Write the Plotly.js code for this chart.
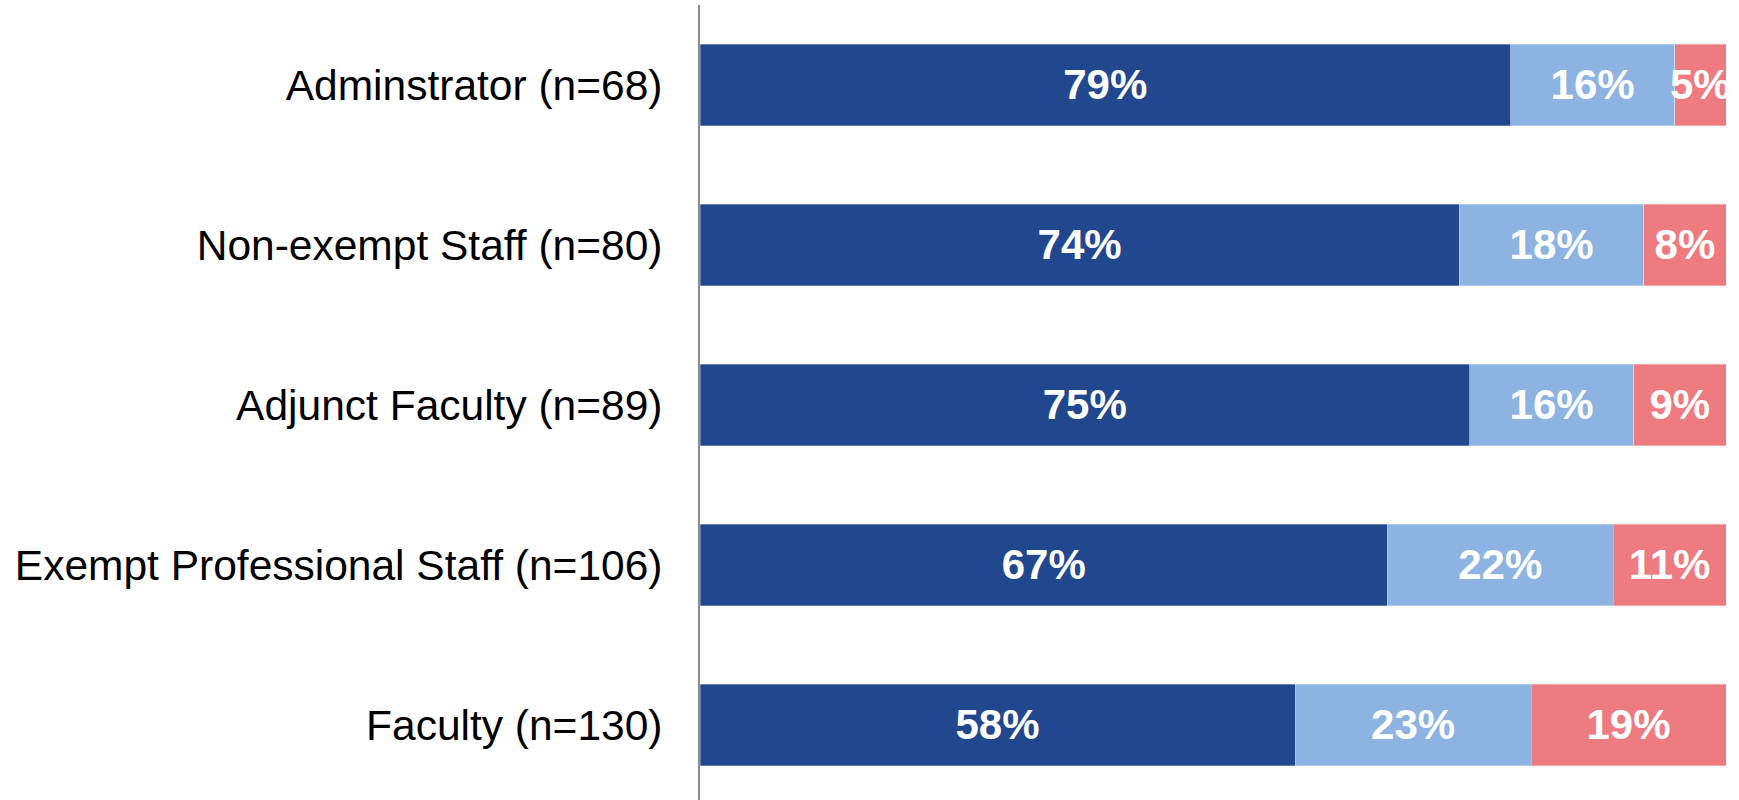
<!DOCTYPE html>
<html>
<head>
<meta charset="utf-8">
<script src="https://cdn.plot.ly/plotly-3.0.1.min.js"></script>
<style>html,body{margin:0;padding:0;background:#fff;}#chart{width:1739px;height:800px;}</style>
</head>
<body>
<div id="chart"></div>
<script>
const categories = ["Faculty (n=130)", "Exempt Professional Staff (n=106)", "Adjunct Faculty (n=89)", "Non-exempt Staff (n=80)", "Adminstrator (n=68)"];
const seriesA = [58, 67, 75, 74, 79];
const seriesB = [23, 22, 16, 18, 16];
const seriesC = [19, 11, 9, 8, 5];
const colors = ["#21478F", "#8DB3E2", "#EE7B7F"];

function mk(vals, color) {
  return {
    type: "bar", orientation: "h", y: categories, x: vals,
    text: vals.map(v => v + "%"), textposition: "inside", insidetextanchor: "middle",
    textangle: 0, constraintext: "none", cliponaxis: true,
    textfont: {family: "Liberation Sans, Arial, sans-serif", size: 42, color: "#ffffff", weight: "bold"},
    marker: {color: color, line: {color: "rgba(255,255,255,0.6)", width: 0.5}},
    hoverinfo: "none", showlegend: false
  };
}

const data = [mk(seriesA, colors[0]), mk(seriesB, colors[1]), mk(seriesC, colors[2])];
const layout = {
  width: 1739, height: 800, barmode: "stack", bargap: 0.49,
  margin: {l: 700, r: 13, t: 5, b: 0, pad: 0},
  paper_bgcolor: "#fff", plot_bgcolor: "#fff",
  font: {family: "Liberation Sans, Arial, sans-serif", color: "#000"},
  xaxis: {range: [0, 100], visible: false, fixedrange: true},
  yaxis: {type: "category", range: [-0.469, 4.5], showline: true, linecolor: "#8c8c8c", linewidth: 2,
          showgrid: false, zeroline: false, ticks: "", ticklabelstandoff: 27,
          tickfont: {size: 42.5, color: "#000"}, fixedrange: true}
};
Plotly.newPlot("chart", data, layout, {staticPlot: true, displayModeBar: false});
</script>
</body>
</html>
